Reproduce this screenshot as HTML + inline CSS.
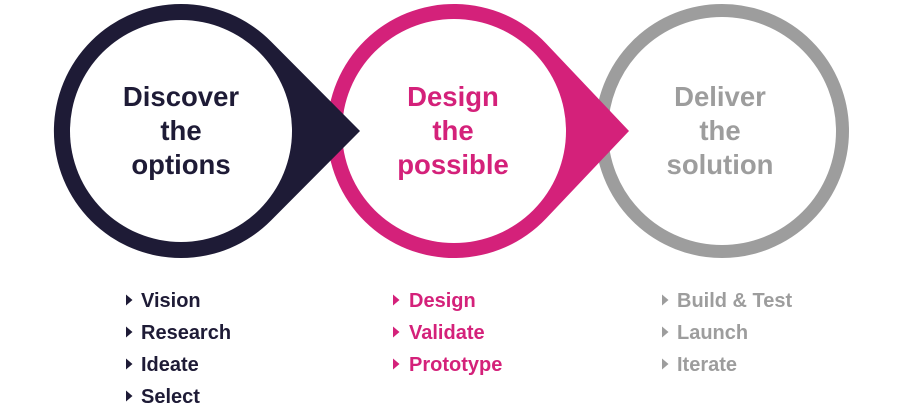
<!DOCTYPE html>
<html><head><meta charset="utf-8"><style>
body{margin:0;background:#fff;width:900px;height:408px;overflow:hidden}
svg{display:block}
text{font-family:"Liberation Sans",sans-serif;font-weight:bold}
</style></head><body>
<svg width="900" height="408" viewBox="0 0 900 408">
<circle cx="722" cy="131" r="120.5" fill="#fff" stroke="#9d9d9d" stroke-width="13"/>
<path d="M546.2,43.6 L629,131 L546.2,218.4 A127,127 0 1 1 546.2,43.6 Z" fill="#d4217a"/>
<circle cx="454" cy="131" r="112" fill="#fff"/>
<path d="M271,41.5 L360,131 L271,220.5 A127,127 0 1 1 271,41.5 Z" fill="#1e1b36"/>
<circle cx="181" cy="131" r="111" fill="#fff"/>
<g font-size="27.5" text-anchor="middle">
<g fill="#1e1b36"><text x="181" y="106">Discover</text><text x="181" y="140">the</text><text x="181" y="174">options</text></g>
<g fill="#d4217a"><text x="453" y="106">Design</text><text x="453" y="140">the</text><text x="453" y="174">possible</text></g>
<g fill="#9d9d9d"><text x="720" y="106">Deliver</text><text x="720" y="140">the</text><text x="720" y="174">solution</text></g>
</g>
<g font-size="20">
<g fill="#1e1b36">
<path d="M126,294.5 L132.5,300 L126,305.5Z M126,326.5 L132.5,332 L126,337.5Z M126,358.5 L132.5,364 L126,369.5Z M126,390.5 L132.5,396 L126,401.5Z"/>
<text x="141" y="307">Vision</text><text x="141" y="339">Research</text><text x="141" y="371">Ideate</text><text x="141" y="403">Select</text>
</g>
<g fill="#d4217a">
<path d="M393,294.5 L399.5,300 L393,305.5Z M393,326.5 L399.5,332 L393,337.5Z M393,358.5 L399.5,364 L393,369.5Z"/>
<text x="409" y="307">Design</text><text x="409" y="339">Validate</text><text x="409" y="371">Prototype</text>
</g>
<g fill="#9d9d9d">
<path d="M662,294.5 L668.5,300 L662,305.5Z M662,326.5 L668.5,332 L662,337.5Z M662,358.5 L668.5,364 L662,369.5Z"/>
<text x="677" y="307">Build &amp; Test</text><text x="677" y="339">Launch</text><text x="677" y="371">Iterate</text>
</g>
</g>
</svg>
</body></html>
